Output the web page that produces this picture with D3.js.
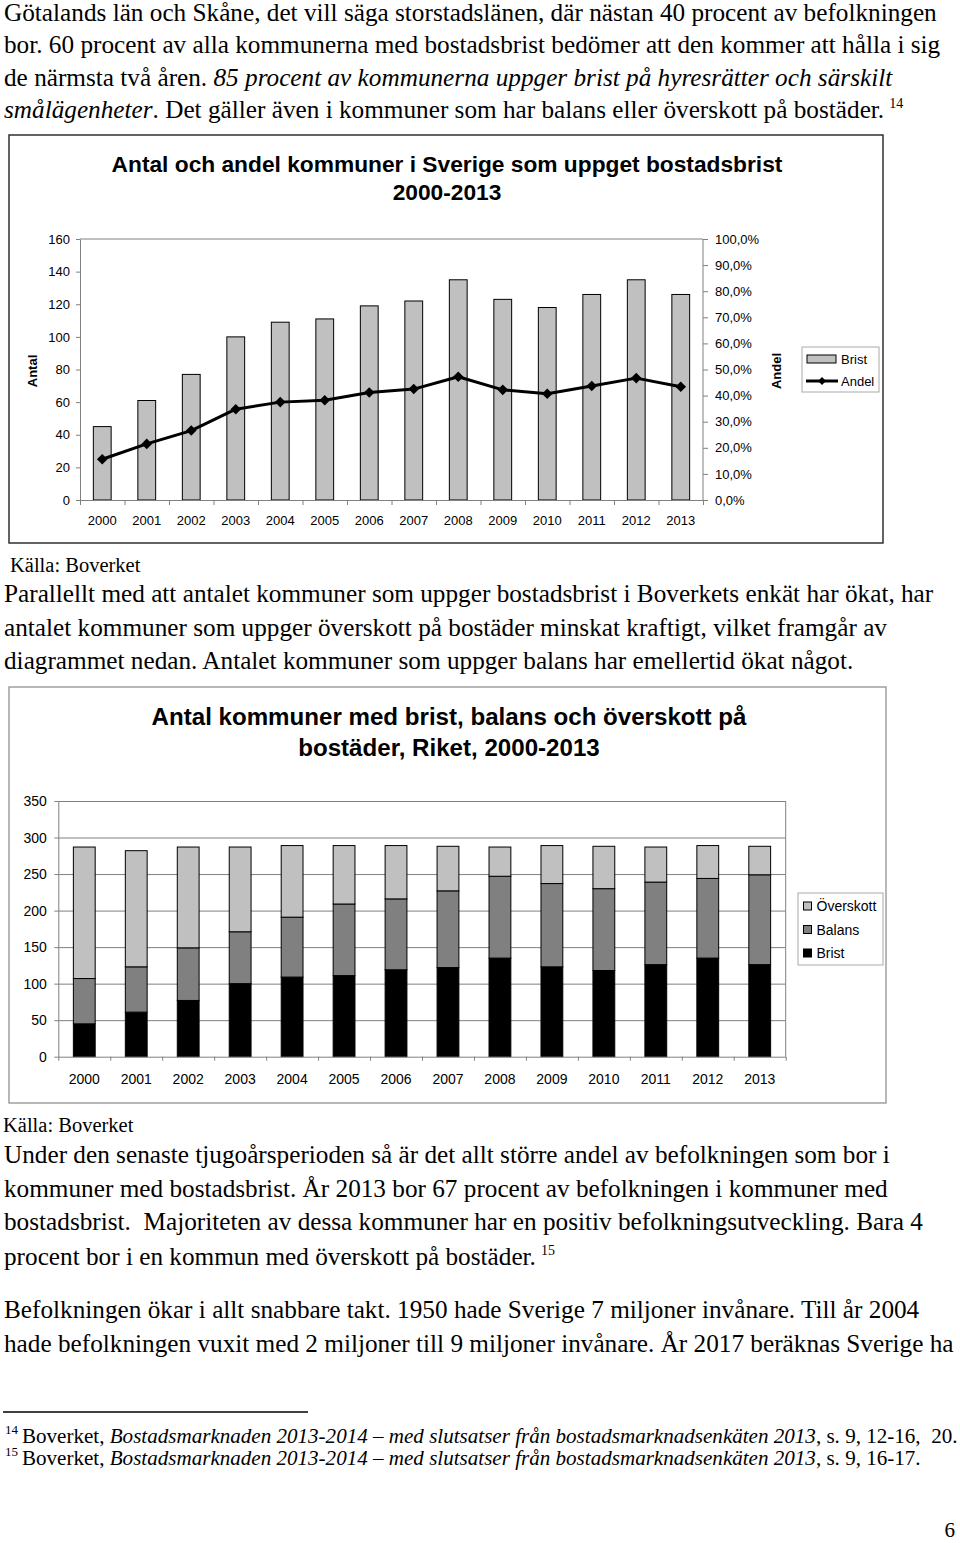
<!DOCTYPE html>
<html><head><meta charset="utf-8">
<script src="https://cdn.jsdelivr.net/npm/d3@7"></script>
<style>
html,body{margin:0;padding:0;background:#fff;}
svg{display:block;}
.serif{font-family:"Liberation Serif","Times New Roman",serif;fill:#000;white-space:pre;}
.sans{font-family:"Liberation Sans",Arial,sans-serif;fill:#000;}
</style></head><body>
<svg id="page" width="960" height="1543"></svg>
<script>
// ---------- DATA ----------
const years = ["2000","2001","2002","2003","2004","2005","2006","2007","2008","2009","2010","2011","2012","2013"];
const bristCount = [45, 61, 77, 100, 109, 111, 119, 122, 135, 123, 118, 126, 135, 126];
const andelShare = [0.156, 0.215, 0.266, 0.348, 0.375, 0.382, 0.412, 0.425, 0.472, 0.422, 0.407, 0.437, 0.467, 0.434];
const balansCount = [62, 62, 72, 71, 82, 98, 97, 105, 112, 114, 112, 113, 109, 123];
const overskottCount = [180, 159, 138, 116, 98, 80, 73, 61, 40, 52, 58, 48, 45, 39];
const leftTicks1 = [0, 20, 40, 60, 80, 100, 120, 140, 160];
const rightTicks1 = [0, 0.1, 0.2, 0.3, 0.4, 0.5, 0.6, 0.7, 0.8, 0.9, 1.0];
const ticks2 = [0, 50, 100, 150, 200, 250, 300, 350];
const title1 = ["Antal och andel kommuner i Sverige som uppget bostadsbrist", "2000-2013"];
const title2 = ["Antal kommuner med brist, balans och överskott på", "bostäder, Riket, 2000-2013"];
const legend1 = ["Brist", "Andel"];
const legend2 = ["Överskott", "Balans", "Brist"];

const svg = d3.select("#page");
svg.append("rect").attr("width",960).attr("height",1543).attr("fill","#fff");

const sv = d3.formatLocale({decimal:",", thousands:" ", grouping:[3], currency:["","kr"], percent:"%"});
const pct = sv.format(".1%");

// ---------- BODY TEXT ----------
function measure(parts, size){
  const t = svg.append("text").attr("class","serif").attr("font-size",size);
  parts.forEach(p=>{ const s=t.append("tspan").text(p[0]); if(p[1]==="i") s.attr("font-style","italic"); });
  const w = t.node().getComputedTextLength(); t.remove(); return w;
}
const bodySize = 22 * (890-4) / measure([["Under den senaste tjugoårsperioden så är det allt större andel av befolkningen som bor i"]], 22);

const bodyLines = [
 {y:21, parts:[["Götalands län och Skåne, det vill säga storstadslänen, där nästan 40 procent av befolkningen"]]},
 {y:53.3, parts:[["bor. 60 procent av alla kommunerna med bostadsbrist bedömer att den kommer att hålla i sig"]]},
 {y:85.5, parts:[["de närmsta två åren. "],["85 procent av kommunerna uppger brist på hyresrätter och särskilt","i"]]},
 {y:117.7, parts:[["smålägenheter","i"],[". Det gäller även i kommuner som har balans eller överskott på bostäder."],["14","s"]]},
 {y:602, parts:[["Parallellt med att antalet kommuner som uppger bostadsbrist i Boverkets enkät har ökat, har"]]},
 {y:635.5, parts:[["antalet kommuner som uppger överskott på bostäder minskat kraftigt, vilket framgår av"]]},
 {y:669, parts:[["diagrammet nedan. Antalet kommuner som uppger balans har emellertid ökat något."]]},
 {y:1163.3, parts:[["Under den senaste tjugoårsperioden så är det allt större andel av befolkningen som bor i"]]},
 {y:1196.7, parts:[["kommuner med bostadsbrist. År 2013 bor 67 procent av befolkningen i kommuner med"]]},
 {y:1230, parts:[["bostadsbrist.  Majoriteten av dessa kommuner har en positiv befolkningsutveckling. Bara 4"]]},
 {y:1264.5, parts:[["procent bor i en kommun med överskott på bostäder."],["15","s"]]},
 {y:1318, parts:[["Befolkningen ökar i allt snabbare takt. 1950 hade Sverige 7 miljoner invånare. Till år 2004"]]},
 {y:1351.7, parts:[["hade befolkningen vuxit med 2 miljoner till 9 miljoner invånare. År 2017 beräknas Sverige ha"]]}
];
bodyLines.forEach(l=>{
  const t = svg.append("text").attr("class","serif").attr("x",4).attr("y",l.y).attr("font-size",bodySize);
  l.parts.forEach(p=>{
    const s = t.append("tspan").text(p[0]);
    if(p[1]==="i") s.attr("font-style","italic");
    if(p[1]==="s") s.attr("font-size",14).attr("dy",-10).attr("dx",5);
  });
});

svg.append("text").attr("class","serif").attr("x",10).attr("y",572).attr("font-size",20.5).text("Källa: Boverket");
svg.append("text").attr("class","serif").attr("x",3).attr("y",1132).attr("font-size",20.5).text("Källa: Boverket");

// footnotes
svg.append("line").attr("x1",3).attr("x2",308).attr("y1",1412).attr("y2",1412).attr("stroke","#000").attr("stroke-width",1.3);
const fnParts = (tail)=>[["Boverket, "],["Bostadsmarknaden 2013-2014 – med slutsatser från bostadsmarknadsenkäten 2013","i"],[tail]];
const fnSize = 19 * (958-22) / measure(fnParts(", s. 9, 12-16,  20."), 19);
[{n:"14", y:1443, tail:", s. 9, 12-16,  20."},{n:"15", y:1465, tail:", s. 9, 16-17."}].forEach(f=>{
  svg.append("text").attr("class","serif").attr("x",5).attr("y",f.y-9).attr("font-size",13).text(f.n);
  const t = svg.append("text").attr("class","serif").attr("x",22).attr("y",f.y).attr("font-size",fnSize);
  fnParts(f.tail).forEach(p=>{ const s=t.append("tspan").text(p[0]); if(p[1]==="i") s.attr("font-style","italic"); });
});
svg.append("text").attr("class","serif").attr("x",955).attr("y",1537).attr("text-anchor","end").attr("font-size",21).text("6");

// helper for titles
function titleBlock(g, lines, cx, ys, target){
  const t0 = g.append("text").attr("class","sans").attr("font-weight","bold").attr("font-size",22).text(lines[0]);
  const size = 22*target/t0.node().getComputedTextLength(); t0.remove();
  lines.forEach((s,i)=> g.append("text").attr("class","sans").attr("font-weight","bold")
     .attr("font-size",size).attr("text-anchor","middle").attr("x",cx).attr("y",ys[i]).text(s));
}
function styleAxis(g, size){
  g.selectAll("path,line").attr("stroke","#808080");
  g.selectAll("text").attr("class","sans").attr("fill","#000").attr("font-size",size).attr("font-family","Liberation Sans, Arial, sans-serif");
}

// ---------- CHART 1 ----------
const g1 = svg.append("g");
g1.append("rect").attr("x",9).attr("y",135).attr("width",874).attr("height",408).attr("fill","#fff").attr("stroke","#222").attr("stroke-width",1.4);
titleBlock(g1, title1, 447, [171.5, 199.5], 671);

const X0=80, X1=703, YT=239, YB=500;
const xb1 = d3.scaleBand().domain(years).range([X0,X1]).paddingInner(0.6).paddingOuter(0.3);
const yL1 = d3.scaleLinear().domain([0,160]).range([YB,YT]);
const yR1 = d3.scaleLinear().domain([0,1]).range([YB,YT]);

g1.append("path").attr("d",`M${X0},${YT}H${X1}V${YB}`).attr("fill","none").attr("stroke","#808080");

const bars1 = g1.append("g");
bars1.selectAll("rect").data(years).join("rect")
  .attr("x",d=>xb1(d)).attr("width",xb1.bandwidth())
  .attr("y",(d,i)=>yL1(bristCount[i])).attr("height",(d,i)=>YB-yL1(bristCount[i]))
  .attr("fill","#c0c0c0").attr("stroke","#000").attr("stroke-width",1);

const aL = g1.append("g").attr("transform",`translate(${X0},0)`)
  .call(d3.axisLeft(yL1).tickValues(leftTicks1).tickSize(4).tickSizeOuter(0).tickPadding(6).tickFormat(d3.format("d")));
styleAxis(aL, 13);
const aR = g1.append("g").attr("transform",`translate(${X1},0)`)
  .call(d3.axisRight(yR1).tickValues(rightTicks1).tickSize(5).tickSizeOuter(0).tickPadding(7).tickFormat(pct));
styleAxis(aR, 13); aR.select(".domain").remove();
const aB = g1.append("g").attr("transform",`translate(0,${YB})`)
  .call(d3.axisBottom(d3.scaleLinear().domain([0,years.length]).range([X0,X1])).tickValues(d3.range(years.length+1)).tickSize(5).tickSizeOuter(0).tickFormat(""));
styleAxis(aB, 13);
const aBL = g1.append("g").attr("transform",`translate(0,${YB})`)
  .call(d3.axisBottom(xb1).tickSize(0).tickPadding(15.5));
aBL.select(".domain").remove(); styleAxis(aBL, 13);

const cx1 = (d)=>xb1(d)+xb1.bandwidth()/2;
g1.append("path").datum(years)
  .attr("d", d3.line().x(d=>cx1(d)).y((d,i)=>yR1(andelShare[i])))
  .attr("fill","none").attr("stroke","#000").attr("stroke-width",3).attr("stroke-linejoin","round");
g1.append("g").selectAll("path").data(years).join("path")
  .attr("d", d3.symbol(d3.symbolSquare, 56))
  .attr("transform",(d,i)=>`translate(${cx1(d)},${yR1(andelShare[i])}) rotate(45)`)
  .attr("fill","#000");

g1.append("text").attr("class","sans").attr("font-weight","bold").attr("font-size",13)
  .attr("text-anchor","middle").attr("dominant-baseline","central")
  .attr("transform","translate(32,371) rotate(-90)").text("Antal");
g1.append("text").attr("class","sans").attr("font-weight","bold").attr("font-size",13)
  .attr("text-anchor","middle").attr("dominant-baseline","central")
  .attr("transform","translate(776,371) rotate(-90)").text("Andel");

// legend 1
const lg1 = g1.append("g");
lg1.append("rect").attr("x",802).attr("y",347).attr("width",77).attr("height",45).attr("fill","#fff").attr("stroke","#aaa");
lg1.append("rect").attr("x",807).attr("y",355).attr("width",29).attr("height",8).attr("fill","#c0c0c0").attr("stroke","#000");
lg1.append("line").attr("x1",806).attr("x2",838).attr("y1",381).attr("y2",381).attr("stroke","#000").attr("stroke-width",3);
lg1.append("path").attr("d",d3.symbol(d3.symbolSquare,32)).attr("transform","translate(822,381) rotate(45)").attr("fill","#000");
legend1.forEach((s,i)=> lg1.append("text").attr("class","sans").attr("font-size",13).attr("x",841).attr("y",[359,381][i]).attr("dominant-baseline","central").text(s));

// ---------- CHART 2 ----------
const g2 = svg.append("g");
g2.append("rect").attr("x",9).attr("y",687).attr("width",877).attr("height",416).attr("fill","#fff").attr("stroke","#999").attr("stroke-width",1.4);
titleBlock(g2, title2, 449, [725, 755.7], 595);

const P0=58.3, P1=785.7, QT=801, QB=1056.7;
const xb2 = d3.scaleBand().domain(years).range([P0,P1]).paddingInner(0.58).paddingOuter(0.29);
const y2 = d3.scaleLinear().domain([0,350]).range([QB,QT]);

const grid = g2.append("g").attr("transform",`translate(${P0},0)`)
  .call(d3.axisRight(y2).tickValues(ticks2.slice(1)).tickSize(P1-P0).tickFormat(""));
grid.select(".domain").remove(); grid.selectAll("line").attr("stroke","#808080");
g2.append("line").attr("x1",P1).attr("x2",P1).attr("y1",QT).attr("y2",QB).attr("stroke","#808080");

const table = years.map((y,i)=>({year:y, brist:bristCount[i], balans:balansCount[i], overskott:overskottCount[i]}));
const keys = ["brist","balans","overskott"];
const colors = {brist:"#000000", balans:"#808080", overskott:"#c0c0c0"};
const stacked = d3.stack().keys(keys)(table);
g2.append("g").selectAll("g").data(stacked).join("g").attr("fill",d=>colors[d.key])
  .selectAll("rect").data(d=>d).join("rect")
  .attr("x",d=>xb2(d.data.year)).attr("width",xb2.bandwidth())
  .attr("y",d=>y2(d[1])).attr("height",d=>y2(d[0])-y2(d[1]))
  .attr("stroke","#000").attr("stroke-width",1);

const bL = g2.append("g").attr("transform",`translate(${P0},0)`)
  .call(d3.axisLeft(y2).tickValues(ticks2).tickSize(4).tickSizeOuter(0).tickPadding(7.5));
styleAxis(bL, 14);
const bB = g2.append("g").attr("transform",`translate(0,${QB})`)
  .call(d3.axisBottom(d3.scaleLinear().domain([0,years.length]).range([P0,P1])).tickValues(d3.range(years.length+1)).tickSize(4).tickSizeOuter(0).tickFormat(""));
styleAxis(bB, 14);
const bBL = g2.append("g").attr("transform",`translate(0,${QB})`)
  .call(d3.axisBottom(xb2).tickSize(0).tickPadding(17.4));
bBL.select(".domain").remove(); styleAxis(bBL, 14);

// legend 2
const lg2 = g2.append("g");
lg2.append("rect").attr("x",798).attr("y",893).attr("width",85).attr("height",72).attr("fill","#fff").attr("stroke","#aaa");
const legKeys = ["overskott","balans","brist"];
legend2.forEach((s,i)=>{
  const yy = [906, 929.5, 953][i];
  lg2.append("rect").attr("x",803.5).attr("y",yy-4).attr("width",8).attr("height",8).attr("fill",colors[legKeys[i]]).attr("stroke","#000");
  lg2.append("text").attr("class","sans").attr("font-size",14).attr("x",816.5).attr("y",yy).attr("dominant-baseline","central").text(s);
});
</script>
</body></html>
